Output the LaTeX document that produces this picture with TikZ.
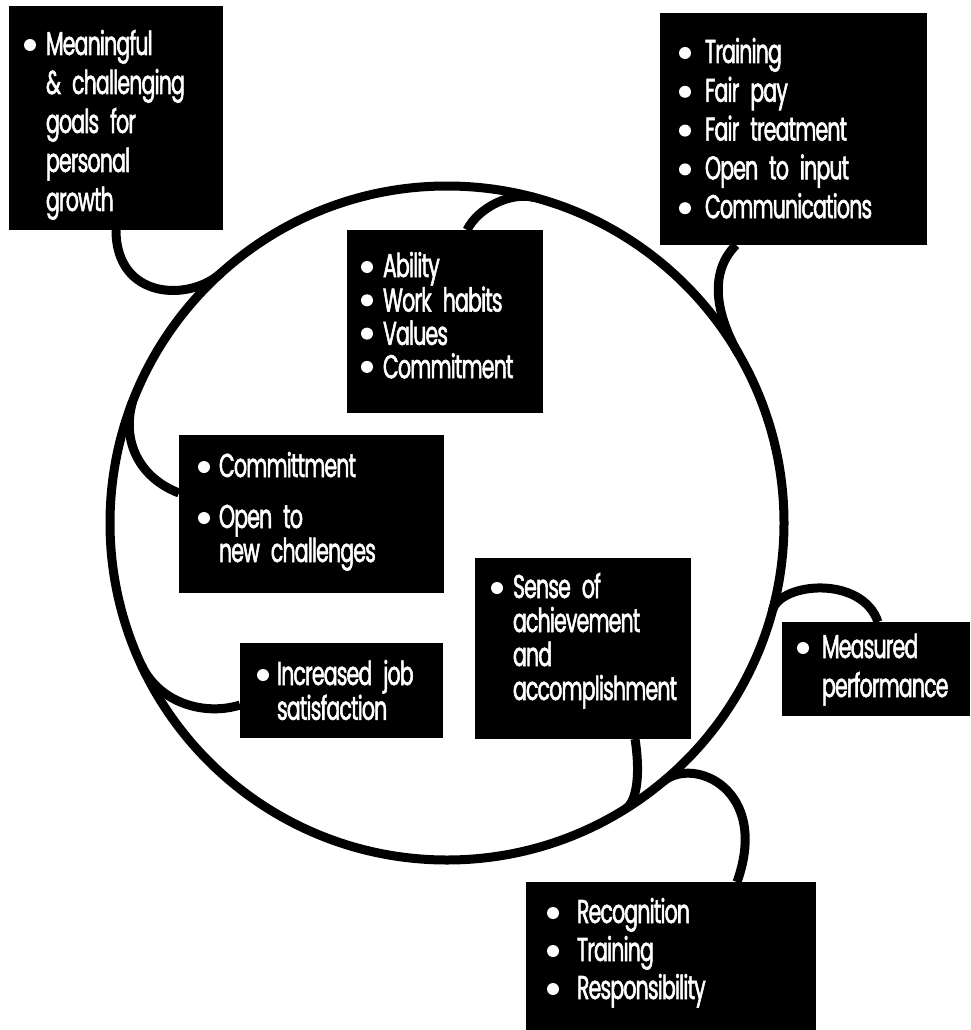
\documentclass[tikz,border=0pt]{standalone}
\usepackage{fontspec}
\newfontfamily\lab[FakeStretch=0.62, FakeBold=1.6, LetterSpace=-2.5, WordSpace=0.6]{Poppins}
\newcommand{\lfont}[1]{\lab\fontsize{33}{#1}\selectfont}
\tikzset{
  box/.style={fill=black, draw=none, inner sep=0pt, outer sep=0pt, anchor=north west},
  lbl/.style={anchor=base west, inner sep=0pt, outer sep=0pt, text=white, text width=320pt, align=left},
  link/.style={line width=9pt, draw=black},
  dot/.style={fill=white}
}
\begin{document}
\begin{tikzpicture}[x=1pt,y=-1pt]
\useasboundingbox (0,0) rectangle (970,1030);
% ring
\node[draw, circle, line width=9pt, minimum size=674pt, inner sep=0pt, outer sep=0pt] (ring) at (447,523) {};
% boxes
\node[box, minimum width=214pt, minimum height=224pt] (goals) at (9,6) {};
\node[box, minimum width=267pt, minimum height=232pt] (mgmt) at (660,13) {};
\node[box, minimum width=196pt, minimum height=183pt] (ability) at (347,230) {};
\node[box, minimum width=265pt, minimum height=158pt] (commit) at (179,435) {};
\node[box, minimum width=203pt, minimum height=95pt] (satis) at (240,643) {};
\node[box, minimum width=216pt, minimum height=181pt] (sense) at (475,558) {};
\node[box, minimum width=188pt, minimum height=94pt] (measured) at (782,622) {};
\node[box, minimum width=290pt, minimum height=148pt] (recog) at (526,882) {};
% connectors
\draw[link] ([xshift=107pt]goals.south west) .. controls +(0,70) and +(-31.5,29.4) .. (ring.132);
\draw[link] ([xshift=120pt]ability.north west) .. controls +(11,-22) and +(-24,-6) .. (ring.75.7);
\draw[link] ([xshift=76pt]mgmt.south west) .. controls +(-28,28) and +(-22.5,-39) .. (ring.30);
\draw[link] (ring.159.5) .. controls +(-11,40) and +(-39,-15) .. ([yshift=-58pt]commit.north west);
\draw[link] (ring.205.9) .. controls +(18,38) and +(-35,11) .. ([yshift=-62pt]satis.north west);
\draw[link] ([xshift=160pt]sense.south west) .. controls +(5,31) and +(12.4,-7.8) .. (ring.302);
\draw[link] (ring.-15) .. controls +(8,-28) and +(-16,-47) .. ([xshift=96pt]measured.north west);
\draw[link] (ring.-50.8) .. controls +(31,-25) and +(33,-92) .. ([xshift=211pt]recog.north west);
% redraw boxes over connector ends
\fill[black] (goals.south west) rectangle (goals.north east);
\fill[black] (mgmt.south west) rectangle (mgmt.north east);
\fill[black] (ability.south west) rectangle (ability.north east);
\fill[black] (commit.south west) rectangle (commit.north east);
\fill[black] (satis.south west) rectangle (satis.north east);
\fill[black] (sense.south west) rectangle (sense.north east);
\fill[black] (measured.south west) rectangle (measured.north east);
\fill[black] (recog.south west) rectangle (recog.north east);
% texts
\node[lbl, font=\lfont{39}] (goalsT) at (46,55) {Meaningful\\ \& challenging\\ goals for\\ personal\\ growth};
\fill[dot] (30,45) circle (6);
\node[lbl, font=\lfont{38.8}] (mgmtT) at (705,63) {Training\\ Fair pay\\ Fair treatment\\ Open to input\\ Communications};
\foreach \k in {0,...,4} \fill[dot] (685,{53+38.8*\k}) circle (6);
\node[lbl, font=\lfont{33.3}] (abilityT) at (383,277) {Ability\\ Work habits\\ Values\\ Commitment};
\foreach \k in {0,...,3} \fill[dot] (367,{267+33.3*\k}) circle (6);
\node[lbl, font=\lfont{34}] (commitT1) at (219,477) {Committment};
\node[lbl, font=\lfont{34}] (commitT2) at (219,528) {Open to\\ new challenges};
\fill[dot] (204,467) circle (6);
\fill[dot] (204,518) circle (6);
\node[lbl, font=\lfont{33}] (satisT) at (277,685) {Increased job\\ satisfaction};
\fill[dot] (263,675) circle (6);
\node[lbl, font=\lfont{34}] (senseT) at (513,598) {Sense of\\ achievement\\ and\\ accomplishment};
\fill[dot] (497,588) circle (6);
\node[lbl, font=\lfont{39}] (measuredT) at (822,658) {Measured\\ performance};
\fill[dot] (803,648) circle (6);
\node[lbl, font=\lfont{38}] (recogT) at (577,923) {Recognition\\ Training\\ Responsibility};
\foreach \k in {0,...,2} \fill[dot] (553,{913+38*\k}) circle (6);
\end{tikzpicture}
\end{document}
